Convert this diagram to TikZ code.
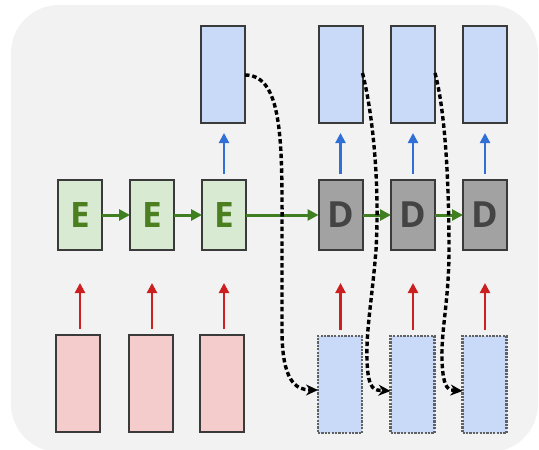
\documentclass[tikz,border=0pt]{standalone}
\usepackage{fontspec}
\newfontfamily\lblfont{Open Sans}
\usetikzlibrary{arrows.meta}
\definecolor{bgc}{HTML}{F2F2F2}
\definecolor{bluef}{HTML}{C9DAF8}
\definecolor{greenf}{HTML}{D9EAD3}
\definecolor{pinkf}{HTML}{F4CCCC}
\definecolor{grayf}{HTML}{A2A2A2}
\definecolor{edgec}{HTML}{3A3A3A}
\definecolor{encg}{HTML}{4B7F1F}
\definecolor{decg}{HTML}{444444}
\definecolor{arrg}{HTML}{3F7F22}
\definecolor{arrr}{HTML}{CC1F1F}
\definecolor{arrb}{HTML}{2F6FD6}
\tikzset{
  x=1pt, y=-1pt,
  cell/.style={draw=edgec, line width=2pt, minimum width=44pt, inner sep=0pt, outer sep=0pt},
  tall/.style={cell, minimum height=97pt},
  mid/.style={cell, minimum height=70pt},
  inbox/.style={tall, fill=pinkf},
  outbox/.style={tall, fill=bluef},
  feedbox/.style={tall, fill=bluef, draw=edgec!80, dash pattern=on 2.2pt off 1.2pt, line width=2.4pt},
  encbox/.style={mid, fill=greenf, text=encg, font=\lblfont\bfseries\fontsize{35}{35}\selectfont},
  decbox/.style={mid, fill=grayf, text=decg, font=\lblfont\bfseries\fontsize{36}{36}\selectfont},
  redarr/.style={draw=arrr, line width=2.2pt, -{Triangle[length=10pt,width=10pt]}, shorten >=33pt, shorten <=6pt},
  bluearr/.style={draw=arrb, line width=2.2pt, -{Triangle[length=10pt,width=10pt]}, shorten >=10pt, shorten <=6pt},
  grnarr/.style={draw=arrg, line width=3pt, -{Triangle[length=11pt,width=11pt]}},
  feed/.style={draw=black, line width=3.4pt, dash pattern=on 4.5pt off 2.8pt, -{Stealth[length=12pt,width=11pt]}},
}
\begin{document}
\begin{tikzpicture}
\useasboundingbox (0,0) rectangle (539,450);
\fill[bgc, rounded corners=48pt] (11,5) rectangle (538,452);

% inputs
\node[inbox] (i1) at (78,383.5) {};
\node[inbox] (i2) at (150.5,383.5) {};
\node[inbox] (i3) at (222,383.5) {};
% encoders
\node[encbox] (e1) at (80,215) {E};
\node[encbox] (e2) at (152,215) {E};
\node[encbox] (e3) at (224,215) {E};
% decoders
\node[decbox] (d1) at (340.5,215) {D};
\node[decbox] (d2) at (413,215) {D};
\node[decbox] (d3) at (485,215) {D};
% outputs
\node[outbox] (o0) at (223,74.5) {};
\node[outbox] (o1) at (340.5,74.5) {};
\node[outbox] (o2) at (413,74.5) {};
\node[outbox] (o3) at (485,74.5) {};
% fed-back decoder inputs
\node[feedbox] (f1) at (340,384.5) {};
\node[feedbox] (f2) at (412.5,384.5) {};
\node[feedbox] (f3) at (484.5,384.5) {};

% input arrows, drawn straight up at each cell's centre
\foreach \a/\b in {i1/e1,i2/e2,i3/e3,f1/d1,f2/d2,f3/d3}
  \draw[redarr] (\b.south |- \a.north) -- (\b.south);
% output arrows
\foreach \a/\b in {e3/o0,d1/o1,d2/o2,d3/o3}
  \draw[bluearr] (\a.north) -- (\a.north |- \b.south);
% recurrent arrows
\foreach \a/\b in {e1/e2,e2/e3,e3/d1,d1/d2,d2/d3}
  \draw[grnarr] (\a.east) -- (\b.west);

% feedback of each output into the next step
\draw[feed] (o0.east |- 0,75) .. controls (285,75) and (282,150) .. (282,250)
  -- (282,330) .. controls (282,380) and (295,390) .. (f1.west |- 0,390);
\draw[feed] (o1.east |- 0,73) .. controls (372,110) and (380,180) .. (376,250)
  .. controls (372,300) and (366,330) .. (367,360)
  .. controls (368,392) and (375,390) .. (f2.west |- 0,391);
\draw[feed] (o2.east |- 0,73) .. controls (445,110) and (449,180) .. (449,250)
  .. controls (449,300) and (441,330) .. (442,360)
  .. controls (443,392) and (450,390) .. (f3.west |- 0,391);
\end{tikzpicture}
\end{document}
